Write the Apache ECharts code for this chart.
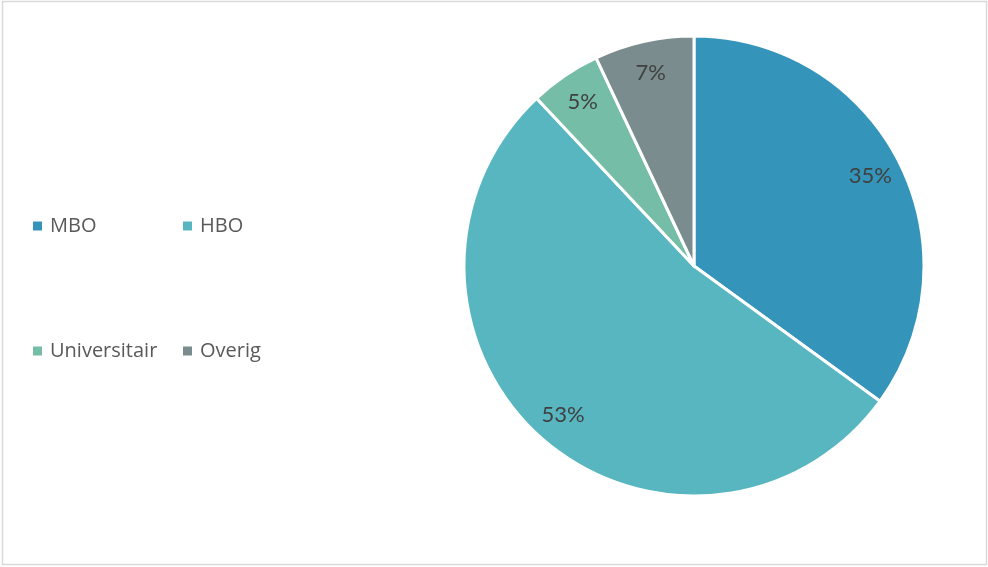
<!DOCTYPE html>
<html>
<head>
<meta charset="utf-8">
<script src="https://cdn.jsdelivr.net/npm/echarts@6/dist/echarts.min.js"></script>
<style>
  html, body { margin: 0; padding: 0; background: #fff; }
  #chart { width: 988px; height: 567px; }
</style>
</head>
<body>
<div id="chart"></div>
<script>
// education levels and their share (%)
var categories = ['MBO', 'HBO', 'Universitair', 'Overig'];
var shares = [35, 53, 5, 7];
var colors = ['#3494BA', '#58B6C0', '#75BDA7', '#7A8C8E'];

var pieData = categories.map(function(name, i) {
	return {name: name, value: shares[i], itemStyle: {color: colors[i]}};
});

// one legend per item so the columns line up like the original
var legendPos = [
	{left: 28, top: 211},
	{left: 178, top: 211},
	{left: 28, top: 336},
	{left: 178, top: 336}
];

var legends = categories.map(function(name, i) {
	return {
		data: [name],
		left: legendPos[i].left,
		top: legendPos[i].top,
		icon: 'rect',
		itemWidth: 9,
		itemHeight: 9,
		itemGap: 0,
		itemStyle: {borderWidth: 0},
		selectedMode: false,
		textStyle: {
			fontFamily: 'Open Sans',
			fontSize: 20,
			color: '#595959',
			padding: [0, 0, 0, 3]
		}
	};
});

var myChart = echarts.init(document.getElementById('chart'));

var option = {
	animation: false,
	backgroundColor: '#fff',
	legend: legends,
	graphic: [{
		type: 'rect',
		shape: {x: 2.5, y: 1.5, width: 984, height: 563},
		style: {fill: 'none', stroke: '#d9d9d9', lineWidth: 1.5},
		silent: true
	}],
	series: [
		{
			type: 'pie',
			center: [694, 266],
			radius: [0, 230],
			startAngle: 90,
			clockwise: true,
			data: pieData,
			itemStyle: {borderColor: '#fff', borderWidth: 3},
			label: {show: false},
			labelLine: {show: false},
			emphasis: {disabled: true}
		},
		{
			// label carrier: transparent ring so labels sit near the outer edge
			type: 'pie',
			center: [694, 266],
			radius: [164, 226],
			startAngle: 90,
			clockwise: true,
			silent: true,
			data: pieData.map(function(d) {
				return {name: d.name, value: d.value, itemStyle: {color: 'rgba(0,0,0,0)'}};
			}),
			label: {
				show: true,
				position: 'inside',
				formatter: '{c}%',
				fontFamily: 'Lato',
				fontSize: 22,
				color: '#404040'
			},
			labelLine: {show: false},
			emphasis: {disabled: true}
		}
	]
};

myChart.setOption(option);

window.onresize = function() {
	myChart.resize();
};
</script>
</body>
</html>
